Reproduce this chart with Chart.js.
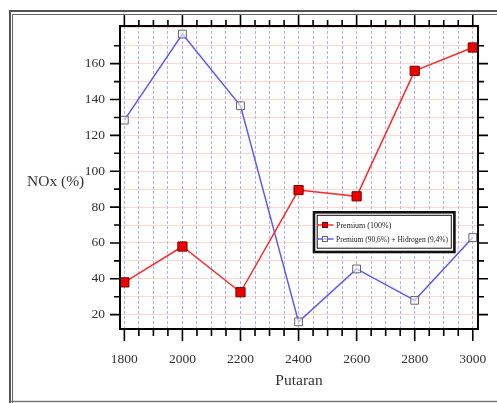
<!DOCTYPE html>
<html><head><meta charset="utf-8">
<script src="https://cdn.jsdelivr.net/npm/chart.js@4"></script>
<style>html,body{margin:0;padding:0;background:#fff;overflow:hidden}canvas{display:block}</style>
</head><body>
<canvas id="c" width="497" height="403"></canvas>
<script>
const categories = [1800, 2000, 2200, 2400, 2600, 2800, 3000];
const premiumValues = [38, 58, 32.5, 89.5, 86, 156, 169];
const hydrogenValues = [128.5, 176.5, 136.5, 16, 45.5, 28, 63];
const seriesLabels = ['Premium (100%)', 'Premium (90,6%) + Hidrogen (9,4%)'];
const xTickLabels = [1800, 2000, 2200, 2400, 2600, 2800, 3000];
const yTickLabels = [20, 40, 60, 80, 100, 120, 140, 160];
const xTitle = 'Putaran';
const yTitle = 'NOx (%)';

const SERIF = '"Liberation Serif", "Times New Roman", serif';

const framePlugin = {
  id: 'frame',
  beforeDraw(chart) {
    const ctx = chart.ctx;
    ctx.save();
    ctx.strokeStyle = '#555';
    ctx.lineWidth = 2;
    ctx.beginPath();
    ctx.moveTo(10, 405); ctx.lineTo(10, 11); ctx.lineTo(500, 11);
    ctx.stroke();
    ctx.lineWidth = 1;
    ctx.strokeStyle = '#666';
    ctx.beginPath();
    ctx.moveTo(12.5, 405); ctx.lineTo(12.5, 14.5); ctx.lineTo(500, 14.5);
    ctx.stroke();
    ctx.strokeStyle = '#777';
    ctx.lineWidth = 1.5;
    ctx.beginPath();
    ctx.moveTo(10, 401.5); ctx.lineTo(500, 401.5);
    ctx.stroke();
    ctx.restore();
  }
};

const axesPlugin = {
  id: 'axesDeco',
  afterDraw(chart) {
    const {ctx, chartArea: a, scales: {x, y}} = chart;
    ctx.save();
    ctx.strokeStyle = '#000';
    ctx.lineWidth = 1.6;
    ctx.beginPath();
    x.ticks.forEach(t => {
      const px = x.getPixelForValue(t.value);
      const major = t.value % 200 === 0;
      ctx.moveTo(px, a.bottom); ctx.lineTo(px, a.bottom + (major ? 12 : 7));
      ctx.moveTo(px, a.top); ctx.lineTo(px, a.top - (major ? 11 : 6));
    });
    y.ticks.forEach(t => {
      if (t.value > 170) return;
      const py = y.getPixelForValue(t.value);
      const major = t.value % 20 === 0;
      const len = major ? 10 : 6;
      ctx.moveTo(a.left, py); ctx.lineTo(a.left - len, py);
      ctx.moveTo(a.right, py); ctx.lineTo(a.right + len, py);
    });
    ctx.stroke();
    ctx.lineWidth = 2;
    ctx.strokeRect(a.left, a.top, a.right - a.left, a.bottom - a.top);
    // y title (horizontal)
    ctx.fillStyle = '#333';
    ctx.font = '15.5px ' + SERIF;
    ctx.textBaseline = 'middle';
    ctx.textAlign = 'left';
    ctx.fillText(yTitle, 27, 182);

    // legend
    const L = 312.7, T = 211, R = 455.7, B = 253.3;
    ctx.fillStyle = '#fff';
    ctx.fillRect(L, T, R - L, B - T);
    ctx.strokeStyle = '#111';
    ctx.lineWidth = 2.6;
    ctx.strokeRect(L + 1.3, T + 1.3, R - L - 2.6, B - T - 2.6);
    ctx.lineWidth = 1;
    ctx.strokeRect(317.2, 215.3, 134.1, 32.9);
    const rows = [225, 239];
    chart.data.datasets.forEach((ds, i) => {
      const yy = rows[i];
      ctx.strokeStyle = ds.borderColor;
      ctx.lineWidth = 1.5;
      ctx.beginPath(); ctx.moveTo(317.5, yy); ctx.lineTo(333.5, yy); ctx.stroke();
      ctx.fillStyle = ds.pointBackgroundColor;
      ctx.strokeStyle = ds.pointBorderColor;
      ctx.lineWidth = 1;
      ctx.fillRect(322.5, yy - 2.5, 5, 5);
      ctx.strokeRect(322.5, yy - 2.5, 5, 5);
      ctx.fillStyle = '#222';
      ctx.font = '8px ' + SERIF;
      ctx.textBaseline = 'middle';
      ctx.fillText(ds.label, 336, yy + 0.5, 112);
    });
    ctx.restore();
  }
};

new Chart(document.getElementById('c'), {
  type: 'line',
  data: {
    datasets: [
      {
        label: seriesLabels[0],
        data: categories.map((c, i) => ({x: c, y: premiumValues[i]})),
        borderColor: '#ff2a2a',
        borderWidth: 1.5,
        pointStyle: 'rect',
        pointRadius: 6.5,
        pointBackgroundColor: '#ee0000',
        pointBorderColor: '#7a0000',
        pointBorderWidth: 1,
        tension: 0
      },
      {
        label: seriesLabels[1],
        data: categories.map((c, i) => ({x: c, y: hydrogenValues[i]})),
        borderColor: '#5a5aff',
        borderWidth: 1.5,
        pointStyle: 'rect',
        pointRadius: 5.5,
        pointBackgroundColor: 'rgba(255,255,255,0.6)',
        pointBorderColor: '#666',
        pointBorderWidth: 1,
        tension: 0
      }
    ]
  },
  options: {
    responsive: false,
    animation: false,
    layout: {padding: {left: 0, top: 26, right: 19, bottom: 0}},
    plugins: {legend: {display: false}, tooltip: {enabled: false}},
    scales: {
      x: {
        type: 'linear',
        min: 1785, max: 3018,
        afterFit(s) { s.height = 74; s.paddingLeft = 0; s.paddingRight = 0; },
        ticks: {
          stepSize: 50,
          includeBounds: false,
          autoSkip: false,
          maxRotation: 0,
          padding: 22,
          color: '#333',
          font: {family: SERIF, size: 13.5},
          callback: v => xTickLabels.includes(v) ? String(v) : ''
        },
        grid: {
          drawTicks: false,
          color: 'rgba(110,110,255,0.55)',
          lineWidth: 1
        },
        border: {display: false, dash: [3, 2]},
        title: {
          display: true, text: xTitle, color: '#333',
          font: {family: SERIF, size: 15.5},
          padding: {top: 12.7, bottom: 12.7}
        }
      },
      y: {
        type: 'linear',
        min: 12, max: 181,
        afterFit(s) { s.width = 120; s.paddingTop = 0; s.paddingBottom = 0; },
        ticks: {
          stepSize: 10,
          includeBounds: false,
          autoSkip: false,
          padding: 15,
          color: '#333',
          font: {family: SERIF, size: 13.5},
          callback: v => yTickLabels.includes(v) ? String(v) : ''
        },
        grid: {
          drawTicks: false,
          color: 'rgba(250,185,170,0.55)',
          lineWidth: 1
        },
        border: {display: false}
      }
    }
  },
  plugins: [framePlugin, axesPlugin]
});
</script>
</body></html>
